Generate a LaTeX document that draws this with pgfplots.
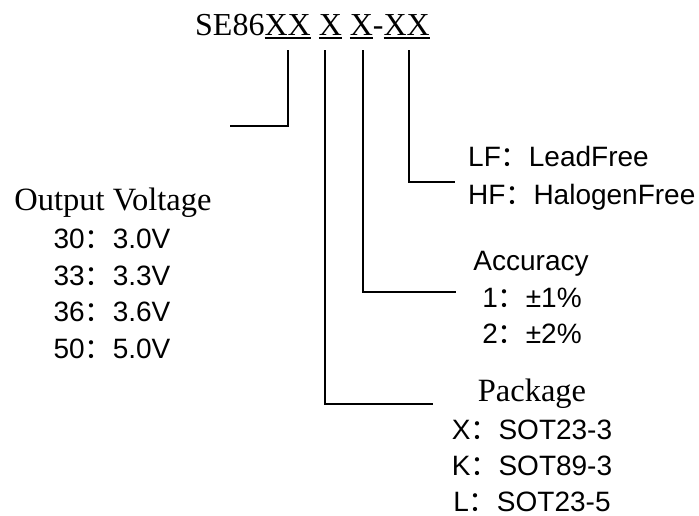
\documentclass[border=0pt]{standalone}
\usepackage{fontspec}
\usepackage{pgfplots}
\pgfplotsset{compat=1.18}
\setmainfont{Liberation Serif}
\newfontfamily\sansfam{Liberation Sans}
\newfontfamily\cjk{Noto Sans CJK SC}
\newcommand{\fc}{\smash{\cjk ：}}
\newcommand{\ul}[1]{\setbox0\hbox{#1}\rlap{\rule[-3.5pt]{\wd0}{1.1pt}}\box0\relax}
\newcommand{\serifsz}{\fontsize{32.5}{38}\selectfont}
\newcommand{\sanssz}{\sansfam\fontsize{28}{34}\selectfont}
\begin{document}
\begin{tikzpicture}
\begin{axis}[
  width=699pt, height=515pt, scale only axis,
  xmin=0, xmax=699, ymin=0, ymax=515, y dir=reverse,
  hide axis, clip=false,
]
\addplot[draw=none, mark=none] coordinates {(0,0) (699,515)};
\addplot[black, line width=1.4pt, sharp plot, mark=none] coordinates {(288,50) (288,126) (230,126)};
\addplot[black, line width=1.4pt, sharp plot, mark=none] coordinates {(325,50) (325,404) (433,404)};
\addplot[black, line width=1.4pt, sharp plot, mark=none] coordinates {(363,50) (363,292) (456,292)};
\addplot[black, line width=1.4pt, sharp plot, mark=none] coordinates {(409,50) (409,182) (455,182)};

\node[anchor=base west, inner sep=0pt] at (axis cs:195,35) {\fontsize{32}{38}\selectfont SE86\ul{XX} \ul{X} \ul{X}-\ul{XX}};

\node[anchor=base, inner sep=0pt] at (axis cs:113,210) {\serifsz Output Voltage};
\node[anchor=base, inner sep=0pt] at (axis cs:112,248) {\sanssz 30\fc3.0V};
\node[anchor=base, inner sep=0pt] at (axis cs:112,285) {\sanssz 33\fc3.3V};
\node[anchor=base, inner sep=0pt] at (axis cs:112,321) {\sanssz 36\fc3.6V};
\node[anchor=base, inner sep=0pt] at (axis cs:112,358) {\sanssz 50\fc5.0V};

\node[anchor=base west, inner sep=0pt] at (axis cs:468,166) {\sanssz LF\fc LeadFree};
\node[anchor=base west, inner sep=0pt] at (axis cs:468,204) {\sanssz HF\fc HalogenFree};

\node[anchor=base, inner sep=0pt] at (axis cs:531,270) {\sanssz Accuracy};
\node[anchor=base, inner sep=0pt] at (axis cs:532,307) {\sanssz 1\fc ±1\%};
\node[anchor=base, inner sep=0pt] at (axis cs:532,343) {\sanssz 2\fc ±2\%};

\node[anchor=base, inner sep=0pt] at (axis cs:532,401) {\serifsz Package};
\node[anchor=base, inner sep=0pt] at (axis cs:532,439) {\sanssz X\fc SOT23-3};
\node[anchor=base, inner sep=0pt] at (axis cs:532,475) {\sanssz K\fc SOT89-3};
\node[anchor=base, inner sep=0pt] at (axis cs:532,511) {\sanssz L\fc SOT23-5};
\end{axis}
\end{tikzpicture}
\end{document}
